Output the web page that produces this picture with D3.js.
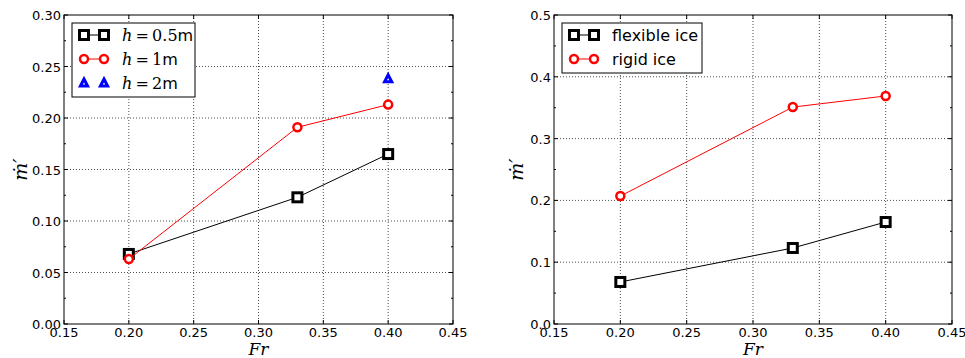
<!DOCTYPE html>
<html>
<head>
<meta charset="utf-8">
<script src="https://cdn.jsdelivr.net/npm/d3@7"></script>
<style>
body { margin: 0; background: #fff; }
svg { display: block; font-family: "DejaVu Sans", sans-serif; }
</style>
</head>
<body>
<div id="chart-area"></div>
<script>
const W = 965, H = 358;

// shared x values (Froude number)
const fr = [0.2, 0.33, 0.4];

// left panel: depth series
const h05 = [0.068, 0.123, 0.165];
const h1 = [0.063, 0.191, 0.213];
const h2Fr = [0.4];
const h2 = [0.238];

// right panel: ice type
const flexible = [0.068, 0.123, 0.165];
const rigid = [0.207, 0.351, 0.369];

const xTicks = [0.15, 0.20, 0.25, 0.30, 0.35, 0.40, 0.45];
const yTicksL = [0, 0.05, 0.10, 0.15, 0.20, 0.25, 0.30];
const yTicksR = [0, 0.1, 0.2, 0.3, 0.4, 0.5];

const svg = d3.select('#chart-area').append('svg')
    .attr("width", W)
    .attr("height", H);

function drawPanel(p) {
    const x = d3.scaleLinear().domain([0.15, 0.45]).range([p.x0, p.x1]);
    const y = d3.scaleLinear().domain(p.yDomain).range([p.y1, p.y0]);
    const g = svg.append("g");

    // grid
    g.append("g").selectAll("line")
        .data(xTicks.slice(1, -1))
        .join("line")
        .attr("x1", d => x(d)).attr("x2", d => x(d))
        .attr("y1", p.y0).attr("y2", p.y1)
        .attr("stroke", "#000").attr("stroke-width", 0.7)
        .attr("stroke-dasharray", "1,2");
    g.append("g").selectAll("line")
        .data(p.yTicks.slice(1, -1))
        .join("line")
        .attr("y1", d => y(d)).attr("y2", d => y(d))
        .attr("x1", p.x0).attr("x2", p.x1)
        .attr("stroke", "#000").attr("stroke-width", 0.7)
        .attr("stroke-dasharray", "1,2");

    // ticks (inward, all four sides)
    const tk = g.append("g").attr("stroke", "#000").attr("stroke-width", 1);
    xTicks.forEach(t => {
        tk.append("line").attr("x1", x(t)).attr("x2", x(t)).attr("y1", p.y1).attr("y2", p.y1 - 4);
        tk.append("line").attr("x1", x(t)).attr("x2", x(t)).attr("y1", p.y0).attr("y2", p.y0 + 4);
    });
    const minor = [];
    for (let i = 0; i < p.yTicks.length - 1; i++) minor.push((p.yTicks[i] + p.yTicks[i + 1]) / 2);
    p.yTicks.forEach(t => {
        tk.append("line").attr("y1", y(t)).attr("y2", y(t)).attr("x1", p.x0).attr("x2", p.x0 + 4);
        tk.append("line").attr("y1", y(t)).attr("y2", y(t)).attr("x1", p.x1).attr("x2", p.x1 - 4);
    });
    minor.forEach(t => {
        tk.append("line").attr("y1", y(t)).attr("y2", y(t)).attr("x1", p.x0).attr("x2", p.x0 + 2);
        tk.append("line").attr("y1", y(t)).attr("y2", y(t)).attr("x1", p.x1).attr("x2", p.x1 - 2);
    });

    // tick labels
    g.append("g").selectAll("text")
        .data(xTicks).join("text")
        .attr("x", d => x(d)).attr("y", p.y1 + 13)
        .attr("text-anchor", "middle").attr("font-size", 13)
        .text(d => d.toFixed(2));
    g.append("g").selectAll("text")
        .data(p.yTicks).join("text")
        .attr("x", p.x0 - 3).attr("y", d => y(d) + 5)
        .attr("text-anchor", "end").attr("font-size", 13)
        .text(d => d.toFixed(p.yDigits));

    // axis labels
    g.append("text")
        .attr("x", (p.x0 + p.x1) / 2).attr("y", H - 3)
        .attr("text-anchor", "middle")
        .attr("font-family", "DejaVu Serif").attr("font-style", "italic")
        .attr("font-size", 17)
        .text("Fr");
    g.append("text")
        .attr("transform", `translate(${p.x0 - p.ylabOff},${(p.y0 + p.y1) / 2}) rotate(-90)`)
        .attr("text-anchor", "middle")
        .attr("font-family", "DejaVu Serif").attr("font-style", "italic")
        .attr("font-size", 19)
        .text("ṁ′");

    // series
    const line = d3.line().x(d => x(d[0])).y(d => y(d[1]));
    p.series.forEach(s => {
        const pts = s.xs.map((v, i) => [v, s.ys[i]]);
        if (s.line) {
            g.append("path").datum(pts)
                .attr("d", line).attr("fill", "none")
                .attr("stroke", s.color).attr("stroke-width", 1);
        }
        const m = g.append("g").selectAll("g").data(pts).join("g")
            .attr("transform", d => `translate(${x(d[0])},${y(d[1])})`);
        drawMarker(m, s);
    });

    // frame
    g.append("rect")
        .attr("x", p.x0).attr("y", p.y0)
        .attr("width", p.x1 - p.x0).attr("height", p.y1 - p.y0)
        .attr("fill", "none").attr("stroke", "#000").attr("stroke-width", 1);

    // legend
    const lg = g.append("g");
    lg.append("rect")
        .attr("x", p.x0 + 8).attr("y", p.y0 + 8)
        .attr("width", p.legW).attr("height", 2 + p.series.length * 24)
        .attr("fill", "#fff").attr("stroke", "#000").attr("stroke-width", 1);
    p.series.forEach((s, i) => {
        const cy = p.y0 + 8 + 12 + i * 24;
        const lx0 = p.x0 + 8 + 12, lx1 = lx0 + 20;
        if (s.line) {
            lg.append("line").attr("x1", lx0).attr("x2", lx1).attr("y1", cy).attr("y2", cy)
                .attr("stroke", s.color).attr("stroke-width", 1);
        }
        const mk = lg.selectAll(null).data([lx0, lx1]).join("g")
            .attr("transform", d => `translate(${d},${cy})`);
        drawMarker(mk, s);
        const t = lg.append("text").attr("x", lx1 + 18).attr("y", cy + 6).attr("font-size", 16);
        if (s.h) {
            t.append("tspan").attr("font-family", "DejaVu Serif").attr("font-style", "italic").text("h");
            t.append("tspan").attr("font-family", "DejaVu Serif").text("\u2009=\u2009" + s.h);
            t.append("tspan").text("m");
        } else {
            t.text(s.label);
        }
    });
}

function drawMarker(sel, s) {
    if (s.marker === "square") {
        sel.append("rect").attr("x", -4.5).attr("y", -4.5).attr("width", 9).attr("height", 9)
            .attr("fill", "#fff").attr("stroke", s.color).attr("stroke-width", 3);
    } else if (s.marker === "circle") {
        sel.append("circle").attr("r", 4)
            .attr("fill", "#fff").attr("stroke", s.color).attr("stroke-width", 2.5);
    } else {
        sel.append("path").attr("d", "M0,-4L3.6,3L-3.6,3Z")
            .attr("fill", "#fff").attr("stroke", s.color).attr("stroke-width", 3)
            .attr("stroke-linejoin", "miter");
    }
}

drawPanel({
    x0: 64, x1: 453, y0: 15, y1: 324,
    yDomain: [0, 0.30], yTicks: yTicksL, yDigits: 2, ylabOff: 37, legW: 123,
    series: [
        {xs: fr, ys: h05, color: "#000", marker: "square", line: true, h: "0.5"},
        {xs: fr, ys: h1, color: "#ff0000", marker: "circle", line: true, h: "1"},
        {xs: h2Fr, ys: h2, color: "#0000ff", marker: "triangle", line: false, h: "2"}
    ]
});

drawPanel({
    x0: 554, x1: 952, y0: 15, y1: 324,
    yDomain: [0, 0.5], yTicks: yTicksR, yDigits: 1, ylabOff: 31, legW: 140,
    series: [
        {xs: fr, ys: flexible, color: "#000", marker: "square", line: true, label: "flexible ice"},
        {xs: fr, ys: rigid, color: "#ff0000", marker: "circle", line: true, label: "rigid ice"}
    ]
});
</script>
</body>
</html>
